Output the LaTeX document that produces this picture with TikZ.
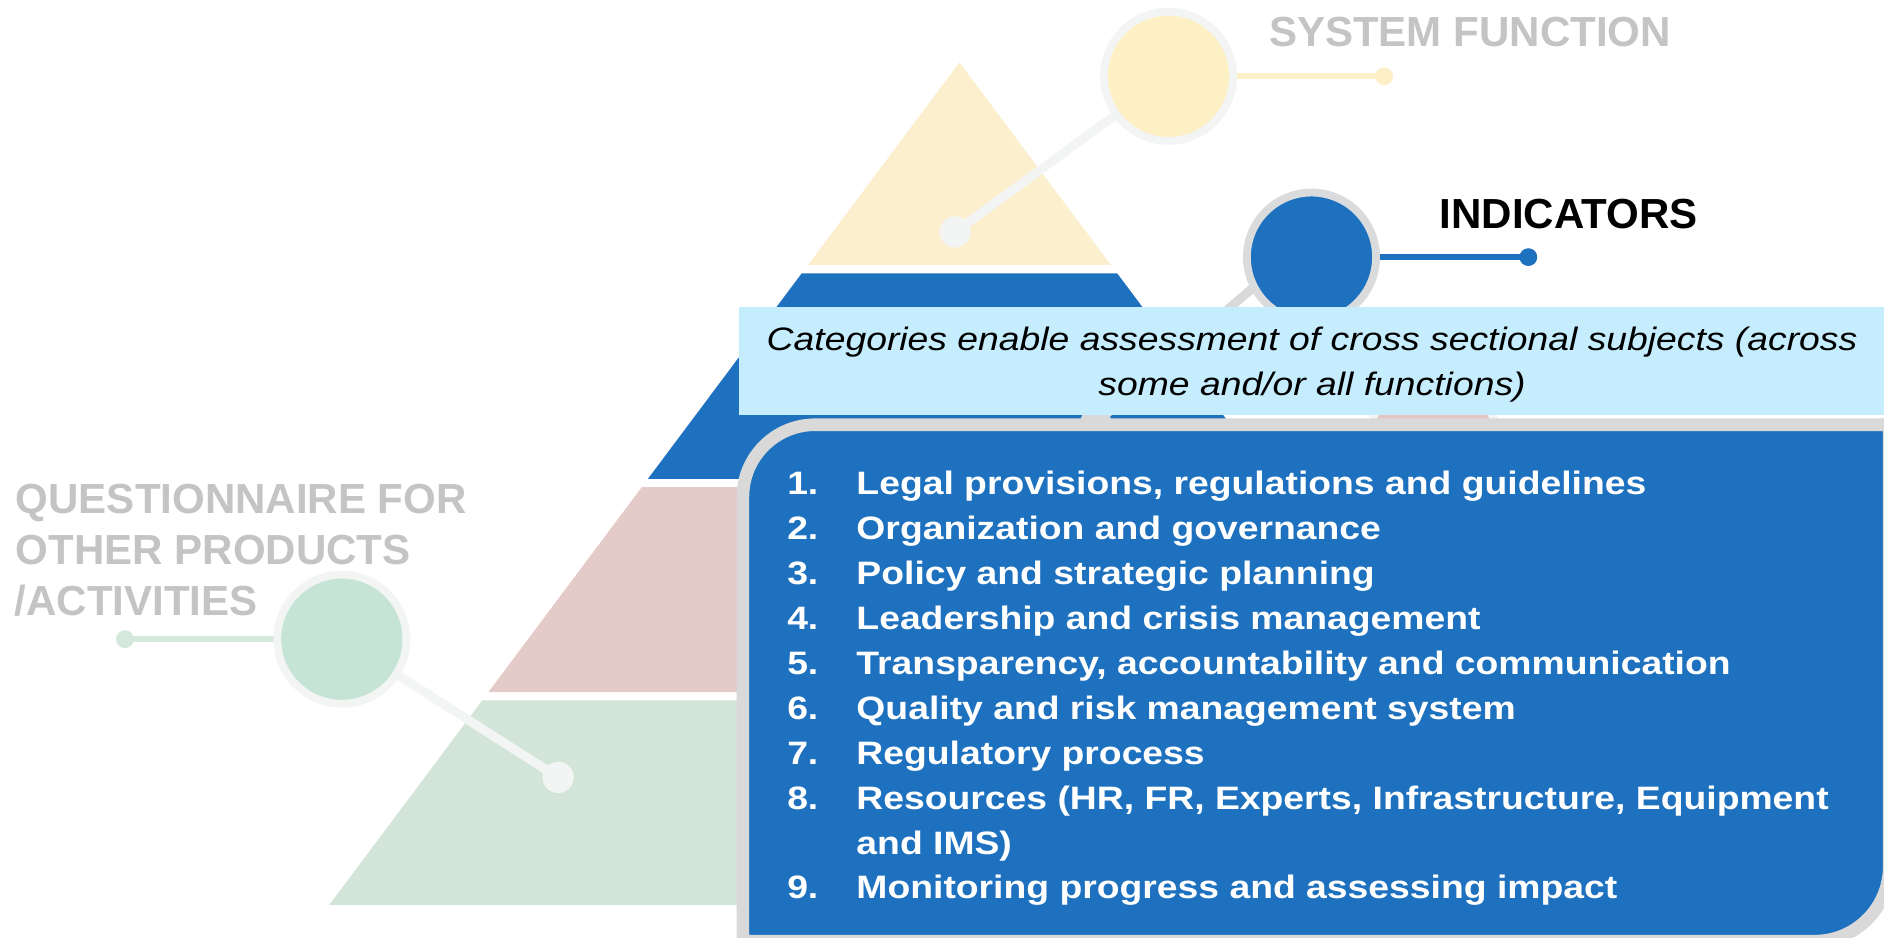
\documentclass[tikz,border=0pt]{standalone}
\usepackage{fontspec}
\setmainfont{Liberation Sans}
\newfontfamily\bodyfont[FakeStretch=1.15]{Liberation Sans}
\definecolor{pblue}{HTML}{1E71BF}
\definecolor{pyellow}{HTML}{FCEFCE}
\definecolor{ppink}{HTML}{E5CBC8}
\definecolor{pgreen}{HTML}{D3E5D8}
\definecolor{ccyan}{HTML}{C5EDFD}
\definecolor{rimlight}{HTML}{F3F5F4}
\definecolor{rimgray}{HTML}{DADBDD}
\definecolor{boxgray}{HTML}{D9D9D9}
\definecolor{headgray}{HTML}{C4C4C4}
\definecolor{cyellow}{HTML}{FEF0C5}
\definecolor{cgreen}{HTML}{C5E4D6}
\definecolor{cpink}{HTML}{E6C4C3}
\definecolor{lyellow}{HTML}{FDF0C9}
\definecolor{lgreen}{HTML}{D5E8DC}
\pgfdeclarelayer{bg}
\pgfdeclarelayer{mid}
\pgfsetlayers{bg,mid,main}
\tikzset{
  bigcirc/.style={circle, inner sep=0pt, minimum size=107.5pt, line width=6.5pt},
  smalldot/.style={circle, inner sep=0pt, minimum size=14.8pt},
  bigdot/.style={circle, inner sep=0pt, minimum size=26pt},
  thinlink/.style={line width=5pt},
  thicklink/.style={line width=7.5pt},
  headtxt/.style={inner sep=0pt, anchor=base west, font=\fontsize{35}{42}\selectfont\bfseries},
  cyantxt/.style={inner sep=0pt, anchor=base, font=\bodyfont\fontsize{27}{32}\selectfont\itshape, text=black},
  listtxt/.style={inner sep=0pt, anchor=base west, font=\bodyfont\fontsize{27}{32}\selectfont\bfseries, text=white}
}
\begin{document}
\begin{tikzpicture}[x=1pt,y=-1pt]
\useasboundingbox (0,0) rectangle (1568,780.67);
% pyramid
\begin{pgfonlayer}{bg}
\fill[white] (0,0) rectangle (1568,780.67);
\fill[pyellow] (798.5,52) -- (924.5,220.5) -- (672.5,220.5) -- cycle;
\fill[pblue] (667.2,227.5) -- (929.8,227.5) -- (1057.7,398.5) -- (539.3,398.5) -- cycle;
\fill[ppink] (534.1,405.5) -- (1062.9,405.5) -- (1190.5,576) -- (406.5,576) -- cycle;
\fill[pgreen] (401.3,583) -- (1195.7,583) -- (1322.8,753) -- (274.2,753) -- cycle;
\end{pgfonlayer}
% circles
\node[bigcirc, draw=rimlight, fill=cyellow] (sc) at (972.5,63.5) {};
\node[bigcirc, draw=rimgray, fill=pblue] (ic) at (1091.5,214) {};
\node[bigcirc, draw=rimlight, fill=cpink] (pc) at (1192.8,367.5) {};
\node[bigcirc, draw=rimlight, fill=cgreen] (gc) at (284.5,532) {};
% dots
\node[bigdot, fill=rimlight] (sdot) at (795,193) {};
\node[smalldot, fill=lyellow] (sldot) at (1152,63.5) {};
\node[bigdot, fill=boxgray] (idot) at (912,352) {};
\node[smalldot, fill=pblue] (ildot) at (1272,214) {};
\node[bigdot, fill=rimlight] (gdot) at (464.5,647) {};
\node[smalldot, fill=lgreen] (gldot) at (104,532) {};
\coordinate (iaim) at (1091.5,197.6);
\begin{pgfonlayer}{mid}
\draw[thicklink, rimlight] (sdot.center) -- (sc.center);
\draw[thinlink, lyellow] (sc.center) -- (sldot.center);
\draw[thicklink, boxgray] (idot.center) -- (iaim);
\draw[thinlink, pblue] (ic.center) -- (ildot.center);
\draw[thicklink, rimlight] (gdot.center) -- (gc.center);
\draw[thinlink, lgreen] (gc.center) -- (gldot.center);
\end{pgfonlayer}
% headings
\node[headtxt, text=headgray] (sfun) at (1056,38.8) {SYSTEM FUNCTION};
\node[headtxt, text=black] (ind) at (1198,190) {INDICATORS};
\node[headtxt, text=headgray] (q1) at (13,427) {QUESTIONNAIRE FOR};
\node[headtxt, text=headgray] (q2) at (13,469.5) {OTHER PRODUCTS};
\node[headtxt, text=headgray] (q3) at (12,512) {/ACTIVITIES};
% cyan box
\node[fill=ccyan, inner sep=0pt, minimum width=955pt, minimum height=89.6pt, anchor=north west] (cyanbox) at (615,255.2) {};
\node[cyantxt] (ct1) at (1092,291.3) {Categories enable assessment of cross sectional subjects (across};
\node[cyantxt] (ct2) at (1092,328.8) {some and/or all functions)};
% blue box
\path[draw=boxgray, line width=10.5pt, fill=pblue]
  (618.3,783.3) -- (618.3,413.5) .. controls (618.3,380.4) and (645.2,353.5) .. (678.3,353.5)
  -- (1572.3,353.5) -- (1572.3,721.3) .. controls (1572.3,755.5) and (1544.5,783.3) .. (1510.3,783.3) -- cycle;
% list
\node[listtxt] (n1) at (655,411.6) {1.};
\node[listtxt] (t1) at (712.6,411.6) {Legal provisions, regulations and guidelines};
\node[listtxt] (n2) at (655,449.0) {2.};
\node[listtxt] (t2) at (712.6,449.0) {Organization and governance};
\node[listtxt] (n3) at (655,486.4) {3.};
\node[listtxt] (t3) at (712.6,486.4) {Policy and strategic planning};
\node[listtxt] (n4) at (655,523.8) {4.};
\node[listtxt] (t4) at (712.6,523.8) {Leadership and crisis management};
\node[listtxt] (n5) at (655,561.2) {5.};
\node[listtxt] (t5) at (712.6,561.2) {Transparency, accountability and communication};
\node[listtxt] (n6) at (655,598.6) {6.};
\node[listtxt] (t6) at (712.6,598.6) {Quality and risk management system};
\node[listtxt] (n7) at (655,636.0) {7.};
\node[listtxt] (t7) at (712.6,636.0) {Regulatory process};
\node[listtxt] (n8) at (655,673.4) {8.};
\node[listtxt] (t8) at (712.6,673.4) {Resources (HR, FR, Experts, Infrastructure, Equipment};
\node[listtxt] (t8b) at (712.6,710.8) {and IMS)};
\node[listtxt] (n9) at (655,748.2) {9.};
\node[listtxt] (t9) at (712.6,748.2) {Monitoring progress and assessing impact};
\end{tikzpicture}
\end{document}
